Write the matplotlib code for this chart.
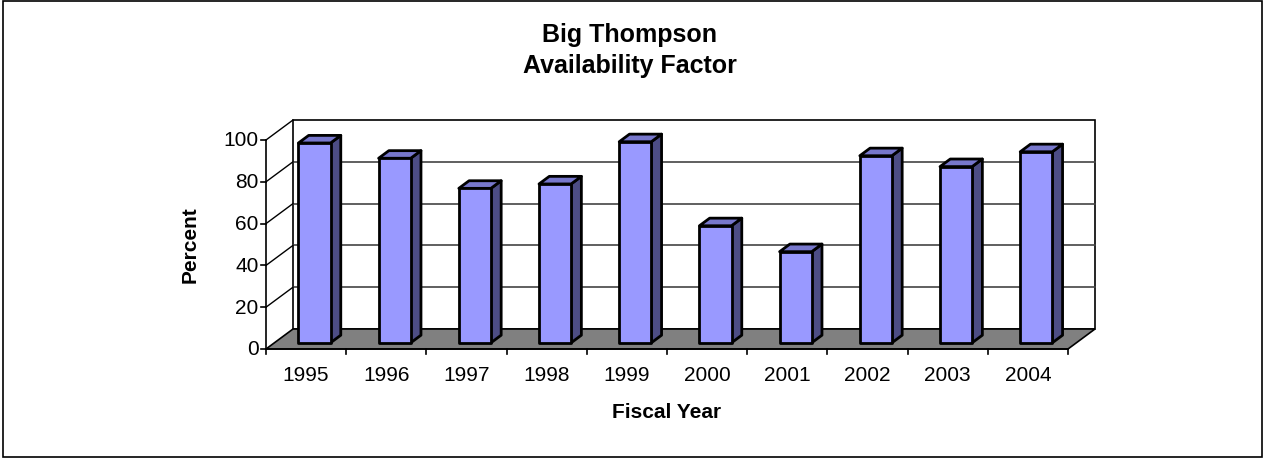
import matplotlib
matplotlib.use('Agg')
import matplotlib.pyplot as plt
from matplotlib.patches import Polygon, Rectangle

plt.rcParams['font.family'] = ['Liberation Sans', 'DejaVu Sans']

years = ['1995', '1996', '1997', '1998', '1999', '2000', '2001', '2002', '2003', '2004']
availability = [95.6, 88.3, 73.9, 76.0, 96.2, 56.0, 43.6, 89.5, 84.3, 91.4]
y_ticks = [0, 20, 40, 60, 80, 100]

title = 'Big Thompson\nAvailability Factor'
x_label = 'Fiscal Year'
y_label = 'Percent'

W, H = 1264, 460
fig = plt.figure(figsize=(W / 100, H / 100), dpi=100)

# front plane of the plot, in figure pixels
left, right, bottom, top = 266, 1068, 350, 141
ax = fig.add_axes([left / W, (H - bottom) / H, (right - left) / W, (bottom - top) / H])
ax.set_xlim(0, len(years))
ax.set_ylim(0, 100)
ax.axis('off')

# depth offset (27 px right, 20 px up for full depth) in data units
DX = 27 / ((right - left) / len(years))
DY = 20 / ((bottom - top) / 100)


def p(x, y, d):
    return (x + d * DX, y + d * DY)


def poly(pts, **kw):
    ax.add_patch(Polygon(pts, closed=True, clip_on=False, **kw))


n = len(years)
front_col = '#9999FF'
top_col = '#7777CC'
side_col = '#4D4D85'

# back wall
poly([p(0, 0, 1), p(n, 0, 1), p(n, 100, 1), p(0, 100, 1)],
     facecolor='white', edgecolor='black', linewidth=1.2, zorder=1)
# gridlines on back wall + side wall lines
for v in y_ticks[1:-1]:
    ax.plot([p(0, v, 1)[0], p(n, v, 1)[0]], [p(0, v, 1)[1], p(n, v, 1)[1]],
            color='#444444', linewidth=1.2, clip_on=False, zorder=2)
for v in y_ticks[1:]:
    ax.plot([p(0, v, 0)[0], p(0, v, 1)[0]], [p(0, v, 0)[1], p(0, v, 1)[1]],
            color='black', linewidth=1.0, clip_on=False, zorder=2)

# floor
poly([p(0, 0, 0), p(n, 0, 0), p(n, 0, 1), p(0, 0, 1)],
     facecolor='#808080', edgecolor='black', linewidth=1.2, zorder=3)

# bars
d0, d1 = 0.31, 0.69
bw = 0.4
for i, v in enumerate(availability):
    x0 = i + (1 - bw) / 2
    x1 = x0 + bw
    kw = dict(edgecolor='black', linewidth=2, joinstyle='round', zorder=4)
    poly([p(x1, 0, d0), p(x1, v, d0), p(x1, v, d1), p(x1, 0, d1)], facecolor=side_col, **kw)
    poly([p(x0, v, d0), p(x1, v, d0), p(x1, v, d1), p(x0, v, d1)], facecolor=top_col, **kw)
    poly([p(x0, 0, d0), p(x1, 0, d0), p(x1, v, d0), p(x0, v, d0)], facecolor=front_col, **kw)

# front axes
ax.plot([0, 0], [0, 100], color='black', linewidth=1.2, clip_on=False, zorder=5)
ax.plot([0, n], [0, 0], color='black', linewidth=1.2, clip_on=False, zorder=5)
tx = 5 / ((right - left) / n)
ty = 5 / ((bottom - top) / 100)
for v in y_ticks:
    ax.plot([-tx, 0], [v, v], color='black', linewidth=1.2, clip_on=False, zorder=5)
    ax.text(-tx - 0.03, v, str(v), ha='right', va='center', fontsize=15)
for i in range(n + 1):
    ax.plot([i, i], [0, -ty], color='black', linewidth=1.2, clip_on=False, zorder=5)
for i, yr in enumerate(years):
    ax.text(i + 0.5, -12, yr, ha='center', va='center', fontsize=15)

fig.text(667 / W, 1 - 413 / H, x_label, ha='center', va='center', fontsize=15, fontweight='bold')
fig.text(190 / W, 1 - 245 / H, y_label, ha='center', va='center', rotation=90,
         fontsize=15, fontweight='bold')
fig.text(630 / W, 1 - 41.7 / H, 'Big Thompson', ha='center', va='baseline', fontsize=18, fontweight='bold')
fig.text(630 / W, 1 - 73.3 / H, 'Availability Factor', ha='center', va='baseline', fontsize=18,
         fontweight='bold')

# outer chart border
fig.patches.append(Rectangle((3 / W, 2 / H), 1259 / W, 456 / H, transform=fig.transFigure,
                             fill=False, edgecolor='black', linewidth=1.2))

fig.savefig('out.png', dpi=100)
